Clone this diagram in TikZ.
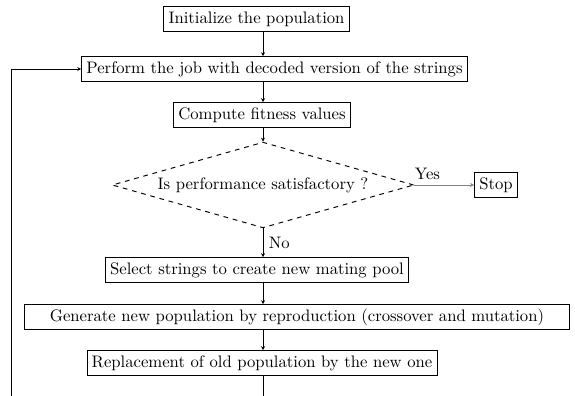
\documentclass[tikz,border=0pt]{standalone}
\usepackage{tikz}
\usetikzlibrary{shapes, arrows.meta, positioning}

\begin{document}
\begin{tikzpicture}[x=0.63pt, y=-0.63pt, line width=0.6pt,
    every node/.style={font=\fontsize{10.5}{12.6}\selectfont},
    block/.style={draw, rectangle, minimum height=15.5pt, inner ysep=2pt, inner xsep=3pt},
    decision/.style={draw, dashed, diamond, aspect=3.5, minimum width=190pt, minimum height=54pt, inner sep=0pt},
    arr/.style={-{Stealth[length=2.5pt, width=2.5pt]}}]
    \clip (0,0) rectangle (575,396);
    \coordinate (spine) at (263,0);
    \node (init) [block] at (256.5,19) {Initialize the population};
    \node (perform) [block] at (274.5,69) {Perform the job with decoded version of the strings};
    \node (fitness) [block] at (262,115) {Compute fitness values};
    \node (check) [decision] at (263,185) {Is performance satisfactory ?};
    \node (stop) [block] at (496,185) {Stop};
    \node (select) [block] at (257,270) {Select strings to create new mating pool};
    \node (generate) [block, minimum width=343pt] at (297,317) {Generate new population by reproduction (crossover and mutation)};
    \node (replace) [block] at (262,363) {Replacement of old population by the new one};
    \coordinate (corner) at (11,420);
    % main column
    \draw [arr] (init.south -| spine) -- (perform.north -| spine);
    \draw [arr] (perform.south -| spine) -- (fitness.north -| spine);
    \draw [arr] (fitness.south -| spine) -- (check.north);
    \draw [arr, gray, line width=0.4pt] (check.east) -- node[above, black, pos=0.22] {Yes} (stop.west);
    \draw [arr] (check.south) -- node[right] {No} (select.north -| spine);
    \draw [arr] (select.south -| spine) -- (generate.north -| spine);
    \draw [arr] (generate.south -| spine) -- (replace.north -| spine);
    % loop back
    \draw [arr] (replace.south -| spine) |- (corner) |- (perform.west);
\end{tikzpicture}
\end{document}
